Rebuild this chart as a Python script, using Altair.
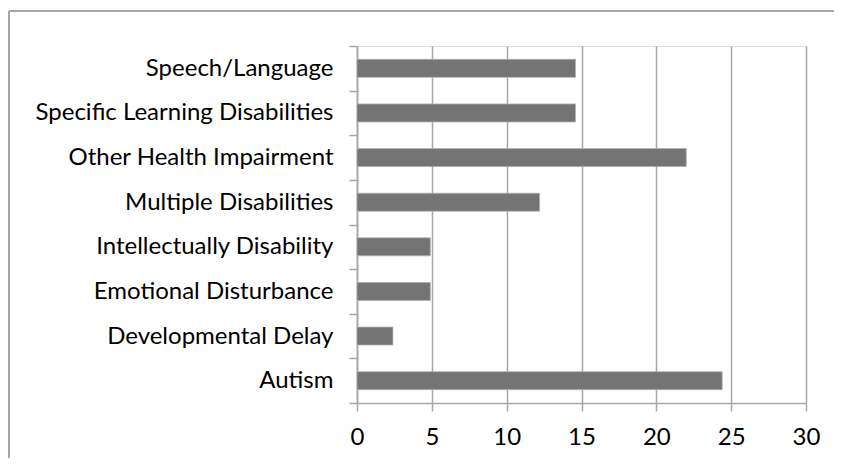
import altair as alt
import pandas as pd

categories = [
    "Speech/Language",
    "Specific Learning Disabilities",
    "Other Health Impairment",
    "Multiple Disabilities",
    "Intellectually Disability",
    "Emotional Disturbance",
    "Developmental Delay",
    "Autism",
]
values = [14.6, 14.6, 22.0, 12.2, 4.9, 4.9, 2.4, 24.4]
x_ticks = [0, 5, 10, 15, 20, 25, 30]

df = pd.DataFrame({"category": categories, "value": values})

GRAY = "#a6a6a6"

bars = alt.Chart(df).mark_bar(color="#747474", size=18, stroke="#b0b0b0", strokeWidth=0.8).encode(
    x=alt.X(
        "value:Q",
        scale=alt.Scale(domain=[0, 30], nice=False, zero=True),
        axis=alt.Axis(
            values=x_ticks,
            title=None,
            grid=True,
            gridColor=GRAY,
            gridWidth=1.5,
            domainColor=GRAY,
            domainWidth=1.5,
            tickColor=GRAY,
            tickWidth=1.5,
            tickSize=8,
            labelFont="Lato",
            labelFontSize=24,
            labelColor="#000000",
            labelPadding=14,
            labelFlush=False,
        ),
    ),
    y=alt.Y(
        "category:N",
        sort=categories,
        scale=alt.Scale(paddingInner=0, paddingOuter=0),
        axis=alt.Axis(
            title=None,
            grid=False,
            tickBand="extent",
            domainColor=GRAY,
            domainWidth=1.5,
            tickColor=GRAY,
            tickWidth=1.5,
            tickSize=8,
            labelFont="Lato",
            labelFontSize=24,
            labelLimit=0,
            labelColor="#000000",
            labelPadding=16,
        ),
    ),
)

frame = alt.Chart(df).mark_rule(color=GRAY, strokeWidth=1.5).encode(
    x=alt.value(-348), x2=alt.value(-348), y=alt.value(-35), y2=alt.value(500)
)
frame_top = alt.Chart(df).mark_rule(color=GRAY, strokeWidth=1.5).encode(
    x=alt.value(-348), x2=alt.value(600), y=alt.value(-35), y2=alt.value(-35)
)

chart = alt.layer(frame, frame_top, bars).properties(
    width=449,
    height=357,
    autosize=alt.AutoSizeParams(type="none"),
    padding={"left": 349, "top": 38, "right": 28, "bottom": 55},
).configure_view(stroke=None).configure(background="white")

chart.save("out.html", embed_options={"renderer": "svg", "actions": False})
